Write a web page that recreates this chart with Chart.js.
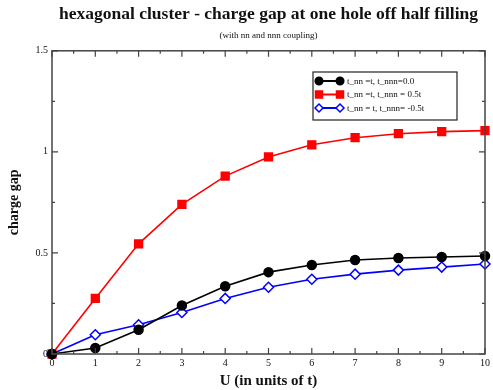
<!DOCTYPE html>
<html>
<head>
<meta charset="utf-8">
<script src="https://cdn.jsdelivr.net/npm/chart.js@4"></script>
<style>
  html, body { margin: 0; padding: 0; background: #fff; }
  #wrap { width: 493px; height: 390px; }
</style>
</head>
<body>
<div id="wrap"><canvas id="gapChart"></canvas></div>
<script>
// values
const uValues = [0, 1, 2, 3, 4, 5, 6, 7, 8, 9, 10];
const gapZero = [0, 0.03, 0.12, 0.24, 0.335, 0.405, 0.44, 0.465, 0.475, 0.48, 0.485];
const gapPlus = [0, 0.275, 0.545, 0.74, 0.88, 0.975, 1.035, 1.07, 1.09, 1.1, 1.105];
const gapMinus = [0, 0.095, 0.145, 0.205, 0.275, 0.33, 0.37, 0.395, 0.415, 0.43, 0.445];
const seriesLabels = ['t_nn =t, t_nnn=0.0', 't_nn =t, t_nnn = 0.5t', 't_nn = t, t_nnn= -0.5t'];
const yTicks = [0, 0.5, 1, 1.5];

const serif = '"Liberation Serif", "DejaVu Serif", serif';
const toPoints = arr => arr.map((v, i) => ({ x: uValues[i], y: v }));

// inward ticks on all four sides, frame, and the boxed legend
const framePlugin = {
    id: 'frame',
    afterDatasetsDraw(chart) {
        const { ctx, chartArea: a, scales } = chart;
        const xs = scales.x, ys = scales.y;
        ctx.save();
        ctx.strokeStyle = '#444';
        ctx.lineWidth = 1.5;
        ctx.strokeRect(a.left, a.top, a.right - a.left, a.bottom - a.top);
        ctx.lineWidth = 1.2;
        for (let v = 0; v <= 10.001; v += 0.5) {
            const px = xs.getPixelForValue(v);
            const len = Number.isInteger(v) ? 6 : 3;
            ctx.beginPath();
            ctx.moveTo(px, a.bottom); ctx.lineTo(px, a.bottom - len);
            ctx.moveTo(px, a.top); ctx.lineTo(px, a.top + len);
            ctx.stroke();
        }
        for (let v = 0; v <= 1.5001; v += 0.25) {
            const py = ys.getPixelForValue(v);
            const len = Math.abs(v * 2 - Math.round(v * 2)) < 1e-6 ? 6 : 3;
            ctx.beginPath();
            ctx.moveTo(a.left, py); ctx.lineTo(a.left + len, py);
            ctx.moveTo(a.right, py); ctx.lineTo(a.right - len, py);
            ctx.stroke();
        }
        ctx.restore();
    },
    afterDraw(chart) {
        const { ctx } = chart;
        const bx = 313, by = 72, bw = 144, bh = 48;
        ctx.save();
        ctx.fillStyle = '#fff';
        ctx.fillRect(bx, by, bw, bh);
        ctx.strokeStyle = '#222';
        ctx.lineWidth = 1.2;
        ctx.strokeRect(bx, by, bw, bh);
        ctx.font = '9px ' + serif;
        ctx.textBaseline = 'middle';
        chart.data.datasets.forEach((ds, i) => {
            const y = by + 9 + i * 13.5;
            const x1 = bx + 6, x2 = bx + 27;
            ctx.strokeStyle = ds.borderColor;
            ctx.lineWidth = 2;
            ctx.beginPath(); ctx.moveTo(x1, y); ctx.lineTo(x2, y); ctx.stroke();
            [x1, x2].forEach(x => {
                ctx.fillStyle = ds.pointBackgroundColor;
                ctx.strokeStyle = ds.borderColor;
                ctx.lineWidth = 1.5;
                ctx.beginPath();
                if (ds.pointStyle === 'circle') {
                    ctx.arc(x, y, 3.8, 0, Math.PI * 2);
                } else if (ds.pointStyle === 'rect') {
                    ctx.rect(x - 3.5, y - 3.5, 7, 7);
                } else {
                    ctx.moveTo(x, y - 4); ctx.lineTo(x + 4, y);
                    ctx.lineTo(x, y + 4); ctx.lineTo(x - 4, y); ctx.closePath();
                }
                ctx.fill(); ctx.stroke();
            });
            ctx.fillStyle = '#111';
            ctx.fillText(ds.label, x2 + 7, y + 0.5);
        });
        ctx.restore();
    }
};

new Chart(document.getElementById('gapChart'), {
    type: 'line',
    data: {
        datasets: [{
            label: seriesLabels[0],
            data: toPoints(gapZero),
            borderColor: '#000',
            pointBackgroundColor: '#000',
            pointStyle: 'circle',
            pointRadius: 4.5
        }, {
            label: seriesLabels[1],
            data: toPoints(gapPlus),
            borderColor: '#ff0000',
            pointBackgroundColor: '#ff0000',
            pointStyle: 'rect',
            pointRadius: 5.5
        }, {
            label: seriesLabels[2],
            data: toPoints(gapMinus),
            borderColor: '#0000ff',
            pointBackgroundColor: '#fff',
            pointStyle: 'rectRot',
            pointRadius: 5
        }]
    },
    options: {
        responsive: true,
        maintainAspectRatio: false,
        animation: false,
        layout: { padding: { left: 6, right: 5, top: 0, bottom: 0 } },
        elements: {
            line: { borderWidth: 1.6, tension: 0 },
            point: { borderWidth: 1.5 }
        },
        datasets: { line: { clip: false } },
        plugins: {
            legend: { display: false },
            tooltip: { enabled: false },
            title: {
                display: true,
                fullSize: false,
                text: 'hexagonal cluster - charge gap at one hole off half filling',
                color: '#111',
                font: { family: serif, size: 17.5, weight: 'bold' },
                padding: { top: 4, bottom: 3 }
            },
            subtitle: {
                display: true,
                fullSize: false,
                text: '(with nn and nnn coupling)',
                color: '#111',
                font: { family: serif, size: 9 },
                padding: { top: 2, bottom: 10 }
            }
        },
        scales: {
            x: {
                type: 'linear',
                min: 0,
                max: 10,
                ticks: {
                    stepSize: 1,
                    color: '#111',
                    padding: 3,
                    font: { family: serif, size: 10 }
                },
                grid: { display: false, drawTicks: false },
                border: { display: false },
                title: {
                    display: true,
                    text: 'U (in units of t)',
                    color: '#111',
                    font: { family: serif, size: 15, weight: 'bold' },
                    padding: { top: 0, bottom: 0 }
                }
            },
            y: {
                min: 0,
                max: 1.5,
                afterBuildTicks: s => { s.ticks = yTicks.map(v => ({ value: v })); },
                afterFit: s => { s.width = 46; },
                ticks: {
                    color: '#111',
                    padding: 4,
                    font: { family: serif, size: 10 },
                    callback: v => String(v)
                },
                grid: { display: false, drawTicks: false },
                border: { display: false },
                title: {
                    display: true,
                    text: 'charge gap',
                    color: '#111',
                    font: { family: serif, size: 14, weight: 'bold' },
                    padding: { top: 0, bottom: 4 }
                }
            }
        }
    },
    plugins: [framePlugin]
});
</script>
</body>
</html>
